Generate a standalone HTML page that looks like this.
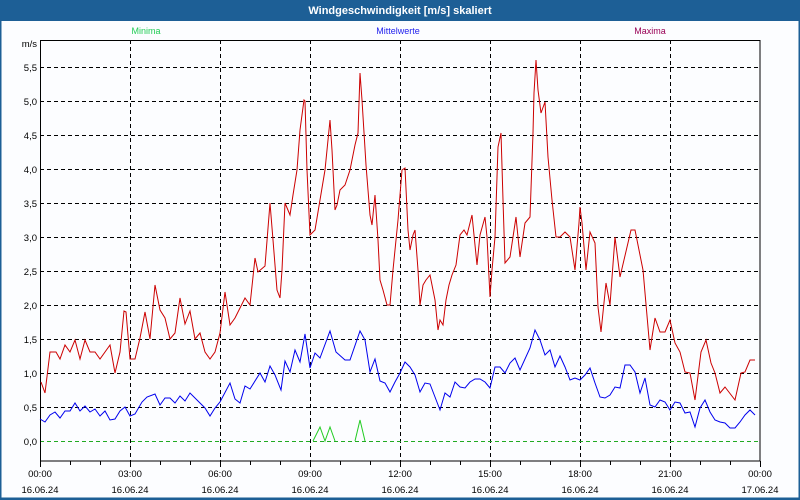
<!DOCTYPE html>
<html><head><meta charset="utf-8"><style>
body{margin:0;background:#fff}
svg{display:block;font-family:"Liberation Sans",sans-serif}
</style></head><body>
<svg width="800" height="500" viewBox="0 0 800 500" xmlns="http://www.w3.org/2000/svg">
<rect x="0" y="0" width="800" height="500" fill="#fcfdff"/>
<rect x="0" y="0" width="800" height="21" fill="#1d5f96"/>
<rect x="0" y="0" width="1.5" height="500" fill="#1d5f96"/>
<rect x="798.5" y="0" width="1.5" height="500" fill="#1d5f96"/>
<rect x="0" y="497.5" width="800" height="2.5" fill="#1d5f96"/>
<text x="400" y="14" fill="#fff" font-size="11" font-weight="bold" text-anchor="middle">Windgeschwindigkeit [m/s] skaliert</text>
<text x="146" y="34" fill="#22cc55" font-size="9" text-anchor="middle">Minima</text>
<text x="398" y="34" fill="#2222ee" font-size="9" text-anchor="middle">Mittelwerte</text>
<text x="650" y="34" fill="#990055" font-size="9" text-anchor="middle">Maxima</text>
<g stroke="#000" stroke-width="1" stroke-dasharray="4,3" fill="none">
<path d="M40 67.5H760M40 101.5H760M40 135.5H760M40 169.5H760M40 203.5H760M40 237.5H760M40 271.5H760M40 305.5H760M40 339.5H760M40 373.5H760M40 407.5H760"/>
<path d="M130.5 40V461M220.5 40V461M310.5 40V461M400.5 40V461M490.5 40V461M580.5 40V461M670.5 40V461"/>
</g>
<path d="M40 441.5H760" stroke="#22aa22" stroke-width="1" stroke-dasharray="4,3"/>
<rect x="40.5" y="40.5" width="719.5" height="420.5" fill="none" stroke="#000" stroke-width="1"/>
<g stroke="#000" stroke-width="1">
<path d="M70.5 461v4M100.5 461v4M130.5 461v6M160.5 461v4M190.5 461v4M220.5 461v6M250.5 461v4M280.5 461v4M310.5 461v6M340.5 461v4M370.5 461v4M400.5 461v6M430.5 461v4M460.5 461v4M490.5 461v6M520.5 461v4M550.5 461v4M580.5 461v6M610.5 461v4M640.5 461v4M670.5 461v6M700.5 461v4M730.5 461v4M760.5 461v6M40.5 461v6"/>
</g>
<g font-size="9.5" fill="#000" text-anchor="end">
<text x="37" y="47">m/s</text>
<text x="37" y="71">5,5</text><text x="37" y="105">5,0</text><text x="37" y="139">4,5</text><text x="37" y="173">4,0</text><text x="37" y="207">3,5</text><text x="37" y="241">3,0</text><text x="37" y="275">2,5</text><text x="37" y="309">2,0</text><text x="37" y="343">1,5</text><text x="37" y="377">1,0</text><text x="37" y="411">0,5</text><text x="37" y="445">0,0</text>
</g>
<g font-size="9.5" fill="#000" text-anchor="middle">
<text x="40" y="477">00:00</text><text x="40" y="493">16.06.24</text>
<text x="130" y="477">03:00</text><text x="130" y="493">16.06.24</text>
<text x="220" y="477">06:00</text><text x="220" y="493">16.06.24</text>
<text x="310" y="477">09:00</text><text x="310" y="493">16.06.24</text>
<text x="400" y="477">12:00</text><text x="400" y="493">16.06.24</text>
<text x="490" y="477">15:00</text><text x="490" y="493">16.06.24</text>
<text x="580" y="477">18:00</text><text x="580" y="493">16.06.24</text>
<text x="670" y="477">21:00</text><text x="670" y="493">16.06.24</text>
<text x="760" y="477">00:00</text><text x="760" y="493">17.06.24</text>
</g>
<polyline fill="none" stroke="#22cc22" stroke-width="1" points="313,441 320,427 325,441 330,427 335,441"/>
<polyline fill="none" stroke="#22cc22" stroke-width="1" points="355,441 360,420 365,441"/>
<polyline fill="none" stroke="#0000ee" stroke-width="1" points="40,419 45,422 50,415 55,412 60,418 65,411 70,411 75,403 80,411 85,406 90,412 95,409 100,416 105,411 110,420 115,419 120,411 125,407 130,416 135,414 142,402 147,397 155,394 160,405 165,398 170,398 175,403 180,396 185,401 190,393 200,403 205,408 210,416 215,408 220,402 230,383 235,399 240,403 245,386 250,389 260,373 265,382 270,366 275,375 281,390 285,361 290,372 295,350 300,362 305,334 310,368 315,353 320,358 330,331 336,352 345,360 350,360 360,331 365,340 370,372 375,359 380,381 385,383 390,392 395,382 400,373 405,362 410,367 415,375 420,392 425,383 430,384 435,397 440,410 445,393 450,397 455,382 460,387 465,388 470,382 475,379 480,379 485,382 490,388 495,367 500,367 505,373 510,363 515,358 520,370 530,348 535,330 540,340 545,355 550,350 555,367 560,356 565,367 570,380 575,378 580,380 585,375 590,368 595,383 600,397 605,398 610,395 615,387 620,388 625,365 630,365 635,372 640,393 645,378 650,405 655,407 660,400 665,402 670,410 675,402 680,403 685,413 690,412 695,427 700,408 705,400 710,412 715,420 720,422 725,423 730,428 735,428 740,422 745,415 750,410 755,415"/>
<polyline fill="none" stroke="#cc0000" stroke-width="1" points="41,382 45,393 50,352 56,352 60,359 65,345 70,352 75,340 80,359 85,340 90,352 95,352 100,359 110,345 115,373 120,352 124,311 126,312 130,359 135,359 140,338 145,312 150,339 155,285 160,310 165,318 170,339 175,333 180,298 185,324 190,311 195,339 200,333 205,352 210,359 215,352 220,333 225,292 230,325 235,318 245,298 250,305 255,258 258,272 265,266 270,203 273,240 277,290 280,298 282,270 285,203 290,215 293,195 297,170 300,130 304,100 305,101 307,170 310,235 315,230 320,200 325,170 330,120 332,150 335,210 337,205 340,190 345,185 350,170 355,145 358,133 360,73 362,100 366,165 370,215 372,225 375,195 378,240 380,280 383,290 387,305 390,305 393,270 398,220 402,170 405,168 408,230 410,250 413,235 415,230 418,270 420,305 423,285 426,280 430,275 435,300 438,330 440,320 443,325 446,300 449,285 452,275 456,265 460,235 464,230 467,235 472,215 474,235 477,265 480,235 485,217 487,237 490,297 492,270 495,237 498,147 501,133 503,200 505,263 510,257 513,237 516,217 520,257 525,223 530,217 533,133 534,93 536,60 538,90 541,113 545,102 548,157 552,200 556,237 560,237 565,232 570,237 575,270 579,223 580,207 582,223 586,270 590,232 595,243 598,307 601,332 606,283 610,305 615,237 620,277 631,230 635,230 643,270 650,350 655,318 660,332 665,332 670,320 675,343 680,352 685,372 690,373 695,400 701,352 706,340 711,363 715,373 720,393 725,387 735,400 741,373 745,372 750,360 755,360"/>
</svg>
</body></html>
